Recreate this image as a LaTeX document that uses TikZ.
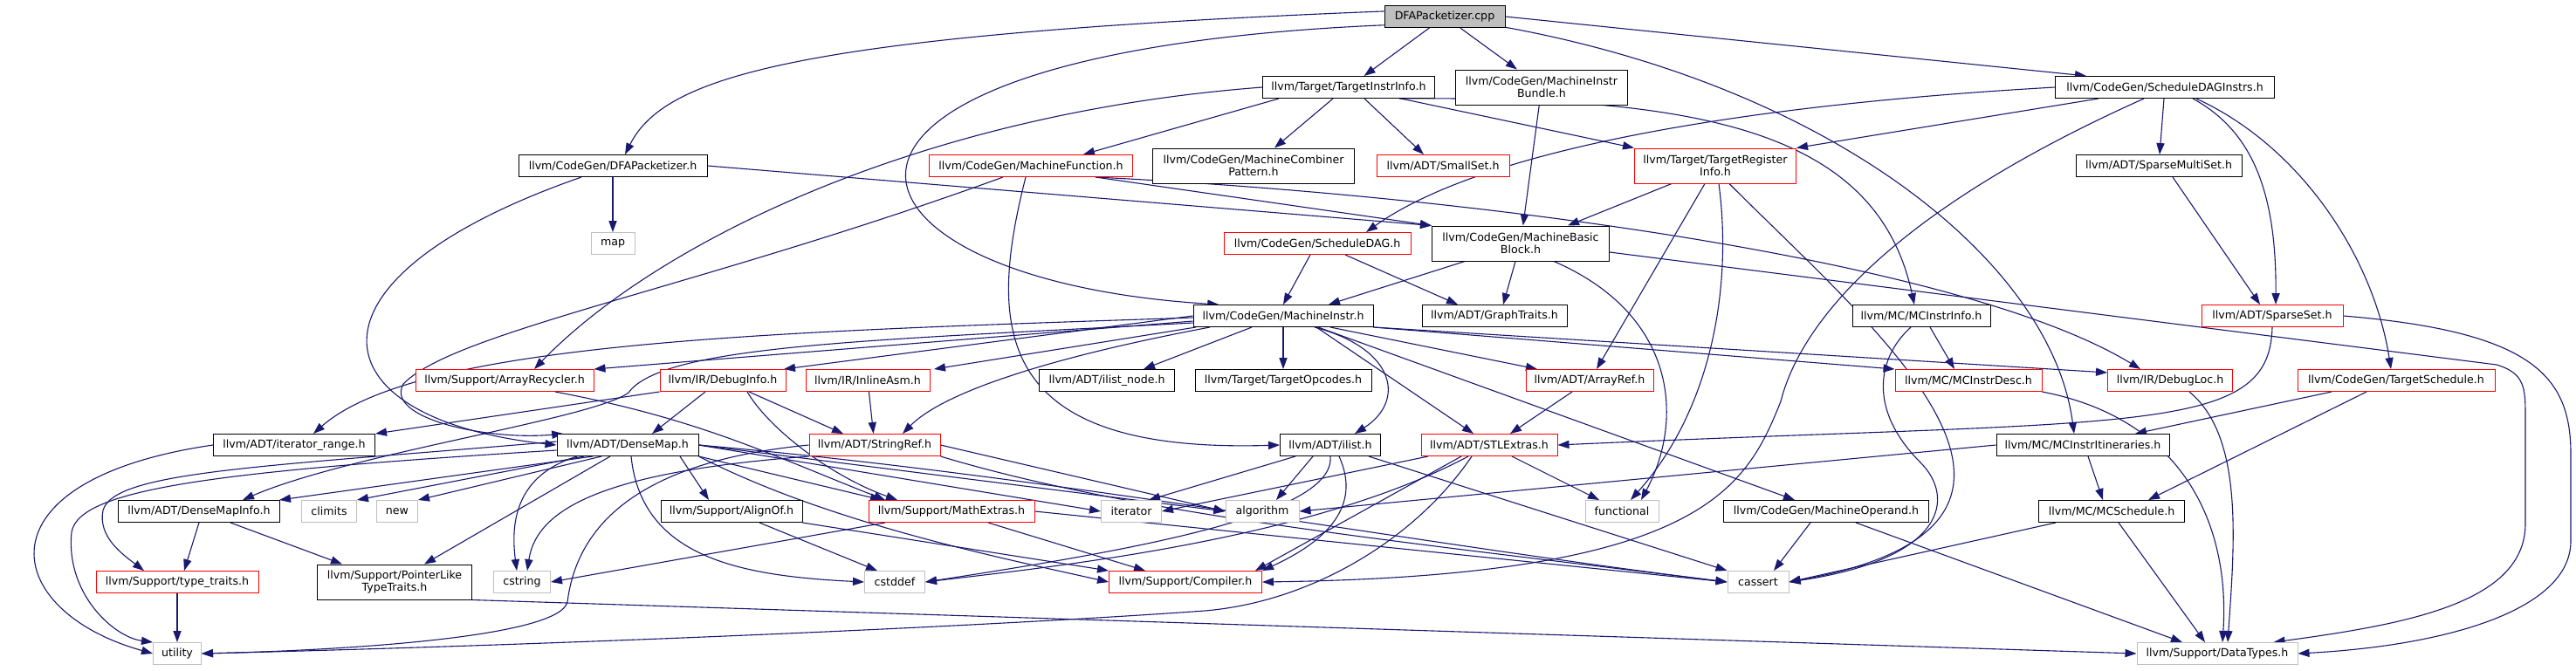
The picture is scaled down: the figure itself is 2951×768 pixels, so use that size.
\documentclass[tikz,border=0pt]{standalone}
\usepackage{fontspec}
\setmainfont{DejaVu Sans}
\usetikzlibrary{arrows.meta}
\definecolor{edgecol}{HTML}{191970}
\definecolor{grayb}{HTML}{BFBFBF}
\newcommand\dxfont{\fontsize{6.3pt}{6.9pt}\selectfont}
\pgfdeclarelayer{bg}
\pgfsetlayers{bg,main}
\tikzset{
  nb/.style={draw=black, fill=white, line width=0.5pt, inner sep=0pt, minimum height=12.5pt, align=center, font=\dxfont, text=black},
  nr/.style={nb, draw=red},
  ng/.style={nb, draw=grayb},
  two/.style={minimum height=20pt},
  wd/.style={minimum width=#1pt},
  edg/.style={draw=edgecol, line width=0.55pt, -{Triangle[length=6.5pt,width=4.6pt]}},
}
\begin{document}
\begin{tikzpicture}[x=0.5pt,y=-0.5pt]
\begin{pgfonlayer}{bg}
\fill[white] (0,0) rectangle (2951,768);
\end{pgfonlayer}
\useasboundingbox (0,0) rectangle (2951,768);
% nodes
\node[nb,fill=grayb,wd=69] (cpp) at (1655,19) {DFAPacketizer.cpp};
\node[nb,wd=98.5] (tii) at (1545,100) {llvm/Target/TargetInstrInfo.h};
\node[nb,two,wd=98.5] (mib) at (1766,100) {llvm/CodeGen/MachineInstr\\Bundle.h};
\node[nb,wd=125.5] (sdi) at (2480,100) {llvm/CodeGen/ScheduleDAGInstrs.h};
\node[nb,wd=108] (dfah) at (702,190) {llvm/CodeGen/DFAPacketizer.h};
\node[ng,wd=25] (maph) at (702,279) {map};
\node[nr,wd=116.5] (mf) at (1181,190) {llvm/CodeGen/MachineFunction.h};
\node[nb,two,wd=115.5] (mcp) at (1436,190) {llvm/CodeGen/MachineCombiner\\Pattern.h};
\node[nr,wd=76] (smallset) at (1653,190) {llvm/ADT/SmallSet.h};
\node[nr,two,wd=92.5] (tri) at (1965,190) {llvm/Target/TargetRegister\\Info.h};
\node[nb,wd=95] (sms) at (2473,190) {llvm/ADT/SparseMultiSet.h};
\node[nr,wd=107] (sd) at (1509,279) {llvm/CodeGen/ScheduleDAG.h};
\node[nb,two,wd=101.5] (mbb) at (1742,279) {llvm/CodeGen/MachineBasic\\Block.h};
\node[nb,wd=103] (mi) at (1470,362) {llvm/CodeGen/MachineInstr.h};
\node[nb,wd=83] (gt) at (1712,362) {llvm/ADT/GraphTraits.h};
\node[nb,wd=79] (mcii) at (2201,362) {llvm/MC/MCInstrInfo.h};
\node[nr,wd=81] (sset) at (2603,362) {llvm/ADT/SparseSet.h};
\node[nr,wd=102] (ar) at (578,436) {llvm/Support/ArrayRecycler.h};
\node[nr,wd=72] (di) at (828,436) {llvm/IR/DebugInfo.h};
\node[nr,wd=71] (ia) at (994,436) {llvm/IR/InlineAsm.h};
\node[nb,wd=77.5] (iln) at (1268,436) {llvm/ADT/ilist\_node.h};
\node[nb,wd=101] (topc) at (1470,436) {llvm/Target/TargetOpcodes.h};
\node[nr,wd=73] (aref) at (1821,436) {llvm/ADT/ArrayRef.h};
\node[nr,wd=84] (mcid) at (2255,436) {llvm/MC/MCInstrDesc.h};
\node[nr,wd=71.5] (dl) at (2486,436) {llvm/IR/DebugLoc.h};
\node[nr,wd=113] (ts) at (2745,436) {llvm/CodeGen/TargetSchedule.h};
\node[nb,wd=92.5] (ir) at (337,510) {llvm/ADT/iterator\_range.h};
\node[nb,wd=81] (dm) at (719,510) {llvm/ADT/DenseMap.h};
\node[nr,wd=75] (sr) at (1002,510) {llvm/ADT/StringRef.h};
\node[nb,wd=57.5] (il) at (1524,510) {llvm/ADT/ilist.h};
\node[nr,wd=78] (stl) at (1706,510) {llvm/ADT/STLExtras.h};
\node[nb,wd=99] (mcit) at (2386,510) {llvm/MC/MCInstrItineraries.h};
\node[nb,wd=92.5] (dmi) at (228,586) {llvm/ADT/DenseMapInfo.h};
\node[ng,wd=31.5] (climits) at (377,586) {climits};
\node[ng,wd=23.5] (newh) at (455,586) {new};
\node[nb,wd=81] (ao) at (838,586) {llvm/Support/AlignOf.h};
\node[nr,wd=95] (me) at (1090,586) {llvm/Support/MathExtras.h};
\node[ng,wd=34.5] (iterator) at (1296,586) {iterator};
\node[ng,wd=42] (algorithm) at (1446,586) {algorithm};
\node[ng,wd=42] (functional) at (1858,586) {functional};
\node[nb,wd=117.5] (mo) at (2092,586) {llvm/CodeGen/MachineOperand.h};
\node[nb,wd=83.5] (mcs) at (2419,586) {llvm/MC/MCSchedule.h};
\node[nr,wd=93] (tt) at (203,667) {llvm/Support/type\_traits.h};
\node[nb,two,wd=88.5] (plt) at (452,667) {llvm/Support/PointerLike\\TypeTraits.h};
\node[ng,wd=32.5] (cstring) at (598,667) {cstring};
\node[ng,wd=34.5] (cstddef) at (1025,667) {cstddef};
\node[nr,wd=87.5] (compiler) at (1358,667) {llvm/Support/Compiler.h};
\node[ng,wd=35] (cassert) at (2014,667) {cassert};
\node[ng,wd=27.5] (utility) at (203,749) {utility};
\node[ng,wd=92] (dt) at (2540,749) {llvm/Support/DataTypes.h};

\begin{pgfonlayer}{bg}
% cpp
\draw[edg] (cpp) -- (tii);
\draw[edg] (cpp) -- (mib);
\draw[edg] (cpp.east) -- ([xshift=-45pt]sdi.north);
\draw[edg] (cpp.175) .. controls (900,40) and (760,90) .. ([xshift=7pt]dfah.north);
\draw[edg] (cpp.188) .. controls (850,60) and (930,320) .. (mi.170);
\draw[edg] (cpp.-10) .. controls (2100,100) and (2350,300) .. ([xshift=-5pt]mcit.north);
% dfah
\draw[edg] (dfah) -- (maph);
\draw[edg] (dfah.east) -- (mbb.north west);
\draw[edg] ([xshift=-18pt]dfah.south) .. controls (330,320) and (360,480) .. (dm.west);
% tii
\draw[edg] ([xshift=-40pt]tii.south) -- ([xshift=30pt]mf.north);
\draw[edg] ([xshift=-9pt]tii.south) -- ([xshift=12pt]mcp.north);
\draw[edg] ([xshift=9pt]tii.south) -- ([xshift=-11pt]smallset.north);
\draw[edg] ([xshift=30pt]tii.south) -- (tri.north west);
\draw[edg] ([xshift=29pt]tii.south) .. controls (1950,110) and (2150,150) .. ([xshift=-4pt]mcii.north);
\draw[edg] (tii.west) .. controls (1050,130) and (750,280) .. ([xshift=17pt]ar.north);
% mib
\draw[edg] (mib) -- (mbb);
% sdi
\draw[edg] (sdi.west) .. controls (2000,120) and (1700,170) .. ([xshift=28pt]sd.north);
\draw[edg] ([xshift=-38pt]sdi.south) -- (tri.north east);
\draw[edg] (sdi) -- (sms);
\draw[edg] ([xshift=16pt]sdi.south) .. controls (2580,150) and (2608,220) .. ([xshift=2pt]sset.north);
\draw[edg] ([xshift=18pt]sdi.south) .. controls (2640,170) and (2720,300) .. ([xshift=-3pt]ts.north);
\draw[edg] ([xshift=-12pt]sdi.south) .. controls (2150,250) and (2060,380) .. (2040,460) .. controls (2000,560) and (1950,660) .. (compiler.east);
% mf
\draw[edg] ([xshift=-16pt]mf.south) .. controls (800,330) and (520,380) .. (462,440) .. controls (440,480) and (560,505) .. (dm.170);
\draw[edg] ([xshift=-3pt]mf.south) .. controls (1130,380) and (1140,520) .. (il.west);
\draw[edg] ([xshift=37pt]mf.south) -- (mbb.north west);
\draw[edg] ([xshift=37pt]mf.south) .. controls (1700,225) and (2250,300) .. ([xshift=-17pt]dl.north);
% tri
\draw[edg] ([xshift=-25pt]tri.south) -- ([xshift=27pt]mbb.north);
\draw[edg] ([xshift=-6pt]tri.south) -- ([xshift=4pt]aref.north);
\draw[edg] ([xshift=2pt]tri.south) .. controls (1985,330) and (1960,470) .. ([xshift=5pt]functional.north);
\draw[edg] ([xshift=8pt]tri.south) .. controls (2150,380) and (2420,600) .. (cassert.east);
% mbb
\draw[edg] ([xshift=-32pt]mbb.south) -- ([xshift=26pt]mi.north);
\draw[edg] ([xshift=-3pt]mbb.south) -- ([xshift=5pt]gt.north);
\draw[edg] ([xshift=19pt]mbb.south) .. controls (1920,360) and (1930,480) .. ([xshift=11pt]functional.north);
\draw[edg] ([yshift=-5pt]mbb.east) -- (2860,418) .. controls (2893,428) and (2893,445) .. (2893,480) -- (2893,600) .. controls (2893,690) and (2760,715) .. ([xshift=-14pt]dt.north east);
% sd, sms
\draw[edg] ([xshift=-4pt]sd.south) -- (mi.north);
\draw[edg] ([xshift=16pt]sd.south) -- ([xshift=-21pt]gt.north);
\draw[edg] ([xshift=8pt]sms.south) -- ([xshift=-7pt]sset.north);
% sset
\draw[edg] (sset.south) .. controls (2600,500) and (2450,480) .. (stl.east);
\draw[edg] (sset.east) .. controls (2900,380) and (2945,430) .. (2945,520) -- (2945,620) .. controls (2945,700) and (2800,740) .. (dt.east);
% ts, mcit, mcs, mcii
\draw[edg] ([xshift=-37pt]ts.south) -- ([xshift=30pt]mcit.north);
\draw[edg] ([xshift=-17pt]ts.south) -- ([xshift=21pt]mcs.north);
\draw[edg] ([xshift=3pt]mcit.south) -- ([xshift=-5pt]mcs.north);
\draw[edg] (mcit.west) -- (algorithm.east);
\draw[edg] ([xshift=-32pt]mcs.south) -- (cassert.east);
\draw[edg] ([xshift=4pt]mcs.south) -- ([xshift=-7pt]dt.north);
\draw[edg] ([xshift=5pt]mcii.south) -- ([xshift=-8pt]mcid.north);
\draw[edg] ([xshift=-6pt]mcii.south) .. controls (2150,410) and (2140,470) .. (2200,530) .. controls (2240,570) and (2230,640) .. (cassert.east);
% mcid, dl, mo
\draw[edg] (mcid.south east) .. controls (2500,480) and (2555,600) .. ([xshift=3pt]dt.north);
\draw[edg] ([xshift=11pt]dl.south) .. controls (2570,500) and (2560,620) .. ([xshift=6pt]dt.north);
\draw[edg] ([xshift=-9pt]mo.south) -- ([xshift=9pt]cassert.north);
\draw[edg] ([xshift=17pt]mo.south) -- ([xshift=-20pt]dt.north);
% mi
\draw[edg] ([xshift=27pt]mi.south) -- ([xshift=-30pt]aref.north);
\draw[edg] ([xshift=19pt]mi.south) -- ([xshift=-9pt]stl.north);
\draw[edg] ([xshift=20pt]mi.south) -- ([xshift=-18pt]mo.north);
\draw[edg] (mi.south east) -- (mcid.north west);
\draw[edg] (mi.south east) -- ([yshift=-2pt]dl.north west);
\draw[edg] ([xshift=-18pt]mi.south) -- ([xshift=21pt]iln.north);
\draw[edg] (mi) -- (topc);
\draw[edg] ([xshift=-50pt]mi.south) -- ([xshift=38pt]ia.north);
\draw[edg] (mi.west) -- ([xshift=35pt]di.north);
\draw[edg] ([yshift=-3pt]mi.west) -- (ar.north east);
\draw[edg] ([xshift=18pt]mi.south) .. controls (1600,400) and (1610,460) .. ([xshift=14pt]il.north);
\draw[edg] ([xshift=-42pt]mi.south) .. controls (1200,410) and (1080,450) .. ([xshift=16pt]sr.north);
\draw[edg] ([yshift=-4pt]mi.west) .. controls (1000,390) and (760,395) .. (720,450) .. controls (680,480) and (400,520) .. ([xshift=25pt]dmi.north);
\draw[edg] ([yshift=-1pt]mi.west) .. controls (900,380) and (480,390) .. ([xshift=11pt]ir.north);
% di, ia, aref, ar
\draw[edg] ([xshift=15pt]di.south) -- ([xshift=-18pt]sr.north);
\draw[edg] ([xshift=-10pt]di.south) -- ([xshift=14pt]dm.north);
\draw[edg] (di.south west) -- (ir.north east);
\draw[edg] ([xshift=14pt]di.south) .. controls (880,490) and (950,545) .. ([xshift=-31pt]me.north);
\draw[edg] (ia) -- (sr);
\draw[edg] ([xshift=-10pt]aref.south) -- ([xshift=12pt]stl.north);
\draw[edg] ([xshift=29pt]ar.south) .. controls (800,480) and (880,520) .. ([xshift=-38pt]me.north);
% dm
\draw[edg] ([xshift=-20pt]dm.south) -- ([xshift=46pt]dmi.north);
\draw[edg] ([xshift=-25pt]dm.south) -- (climits.north east);
\draw[edg] ([xshift=-15pt]dm.south) -- (newh.north east);
\draw[edg] ([xshift=-10pt]dm.south) -- ([xshift=17pt]plt.north);
\draw[edg] ([xshift=30pt]dm.south) -- ([xshift=-13pt]ao.north);
\draw[edg] (dm.south east) -- ([xshift=-40pt]me.north);
\draw[edg] (dm.east) -- (iterator.west);
\draw[edg] (dm.east) -- (algorithm.west);
\draw[edg] (dm.east) .. controls (1200,545) and (1600,620) .. (cassert.west);
\draw[edg] (dm.south east) .. controls (950,600) and (1150,640) .. (compiler.west);
\draw[edg] ([yshift=2pt]dm.west) .. controls (300,535) and (130,540) .. (118,585) .. controls (112,615) and (140,635) .. ([xshift=-19pt]tt.north);
\draw[edg] ([yshift=-3pt]dm.west) .. controls (250,540) and (90,560) .. (82,610) .. controls (75,680) and (130,730) .. (utility.north west);
\draw[edg] ([xshift=-29pt]dm.south) .. controls (590,545) and (585,600) .. ([xshift=-3pt]cstring.north);
\draw[edg] ([xshift=2pt]dm.south) .. controls (735,640) and (850,660) .. (cstddef.west);
% ir, dmi, tt, plt
\draw[edg] (ir.west) .. controls (-30,550) and (0,700) .. (utility.west);
\draw[edg] (dmi.south) -- ([xshift=4pt]tt.north);
\draw[edg] ([xshift=18pt]dmi.south) -- ([xshift=-30pt]plt.north);
\draw[edg] (tt) -- (utility);
\draw[edg] (plt.south east) -- (dt.west);
% sr
\draw[edg] (sr.east) -- (algorithm.west);
\draw[edg] (sr.south east) .. controls (1300,590) and (1600,620) .. (cassert.west);
\draw[edg] (sr.west) .. controls (720,530) and (660,610) .. (650,690) .. controls (640,730) and (400,745) .. (utility.east);
\draw[edg] (sr.south west) .. controls (700,540) and (615,580) .. ([xshift=3pt]cstring.north);
% il
\draw[edg] ([xshift=-20pt]il.south) -- ([xshift=10pt]iterator.north);
\draw[edg] ([xshift=-10pt]il.south) -- ([xshift=8pt]algorithm.north);
\draw[edg] ([xshift=22pt]il.south) -- (cassert.north west);
\draw[edg] (il.south) .. controls (1530,590) and (1300,630) .. (cstddef.east);
\draw[edg] ([xshift=5pt]il.south) .. controls (1560,580) and (1520,620) .. (compiler.north east);
% stl
\draw[edg] ([xshift=-35pt]stl.south) -- (iterator.east);
\draw[edg] ([xshift=13pt]stl.south) -- ([xshift=-13pt]functional.north);
\draw[edg] ([xshift=-16pt]stl.south) -- ([xshift=-4pt]compiler.north east);
\draw[edg] ([xshift=-12pt]stl.south) .. controls (1500,620) and (1200,650) .. (cstddef.east);
\draw[edg] ([xshift=-10pt]stl.south) .. controls (1620,620) and (1500,690) .. (1380,700) .. controls (1100,720) and (600,740) .. (utility.east);
% me, ao
\draw[edg] (me.east) -- (cassert.west);
\draw[edg] ([xshift=21pt]me.south) -- ([xshift=-23pt]compiler.north);
\draw[edg] ([xshift=-38pt]me.south) -- (cstring.east);
\draw[edg] (ao.south east) -- (compiler.north west);
\draw[edg] ([xshift=16pt]ao.south) -- ([xshift=-10pt]cstddef.north);
\end{pgfonlayer}
\end{tikzpicture}
\end{document}
